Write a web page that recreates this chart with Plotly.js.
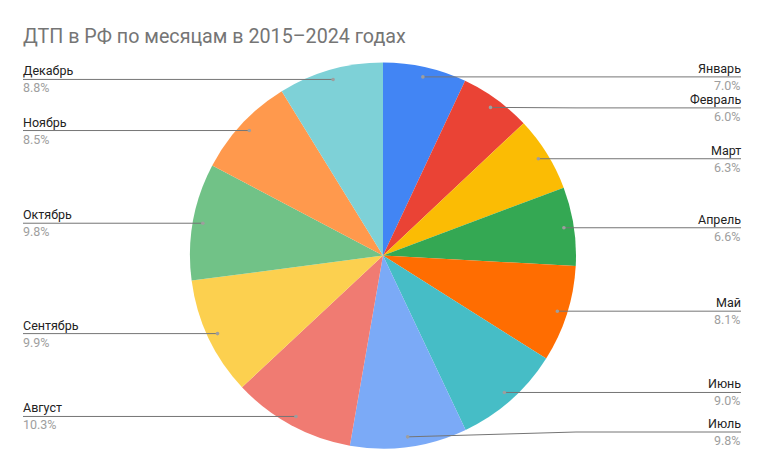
<!DOCTYPE html>
<html>
<head>
<meta charset="utf-8">
<script src="https://cdn.plot.ly/plotly-3.0.1.min.js"></script>
<style>
  html, body { margin: 0; padding: 0; background: #fff; }
  #chart { width: 765px; height: 472px; }
</style>
</head>
<body>
<div id="chart"></div>
<script>
// ── Data ─────────────────────────────────────────────────────────────
const months = ['Январь', 'Февраль', 'Март', 'Апрель', 'Май', 'Июнь',
                'Июль', 'Август', 'Сентябрь', 'Октябрь', 'Ноябрь', 'Декабрь'];
const shares = [7.0, 6.0, 6.3, 6.6, 8.1, 9.0, 9.8, 10.3, 9.9, 9.8, 8.5, 8.8];
const colors = ['#4285F4', '#EA4335', '#FBBC04', '#34A853', '#FF6D01', '#46BDC6',
                '#7BAAF7', '#F07B72', '#FCD04F', '#71C287', '#FF994D', '#7ED1D7'];

// ── Geometry (pixels) ────────────────────────────────────────────────
const W = 765, H = 472;
const CX = 383, CY = 255.5, R = 193;
const DOT_R = 183;          // leader lines start just inside the rim
const LABEL_GAP = 31;       // min vertical gap between labels on one side
const RIGHT_X = 741, LEFT_X = 23;
const Y_MIN = 60, Y_MAX = 432;

const px = x => x / W;
const py = y => 1 - y / H;

// mid-angle of each slice, clockwise from 12 o'clock
const total = shares.reduce((s, v) => s + v, 0);
let cum = 0;
const anchors = shares.map((v, i) => {
    const mid = (cum + v / 2) / total * 2 * Math.PI;
    cum += v;
    return {
        i,
        dx: CX + DOT_R * Math.sin(mid),
        dy: CY - DOT_R * Math.cos(mid),
        right: mid < Math.PI
    };
});

// spread labels vertically so they do not collide
function spread(list) {
    list.sort((p, q) => p.dy - q.dy);
    list.forEach((p, k) => {
        p.ly = p.dy;
        if (k > 0) p.ly = Math.max(p.ly, list[k - 1].ly + LABEL_GAP);
    });
    for (let k = list.length - 1; k >= 0; k--) {
        const lim = k < list.length - 1 ? list[k + 1].ly - LABEL_GAP : Y_MAX;
        list[k].ly = Math.max(Math.min(list[k].ly, lim), Y_MIN);
    }
}
spread(anchors.filter(p => p.right));
spread(anchors.filter(p => !p.right));

// ── Leader lines, dots and labels ────────────────────────────────────
const shapes = [];
const annotations = [];
anchors.forEach(p => {
    const elbowX = p.right ? CX + R : CX - R;
    const endX = p.right ? RIGHT_X : LEFT_X;
    shapes.push({
        type: 'path', xref: 'paper', yref: 'paper',
        path: `M ${px(p.dx)} ${py(p.dy)} L ${px(elbowX)} ${py(p.ly)} L ${px(endX)} ${py(p.ly)}`,
        line: { color: '#757575', width: 1 }
    });
    shapes.push({
        type: 'circle', xref: 'paper', yref: 'paper',
        x0: px(p.dx - 1.8), x1: px(p.dx + 1.8),
        y0: py(p.dy - 1.8), y1: py(p.dy + 1.8),
        fillcolor: '#9e9e9e', line: { width: 0 }
    });
    const common = {
        xref: 'paper', yref: 'paper', x: px(endX),
        xanchor: p.right ? 'right' : 'left', yanchor: 'middle',
        showarrow: false, borderpad: 0, borderwidth: 0
    };
    annotations.push(Object.assign({}, common, {
        text: months[p.i], y: py(p.ly - 8.5),
        font: { family: 'Roboto, Arial, sans-serif', size: 12.5, color: '#222222' }
    }));
    annotations.push(Object.assign({}, common, {
        text: shares[p.i].toFixed(1) + '%', y: py(p.ly + 8.5),
        font: { family: 'Roboto, Arial, sans-serif', size: 12.5, color: '#9e9e9e' }
    }));
});

const pieTrace = {
    type: 'pie',
    labels: months,
    values: shares,
    sort: false,
    direction: 'clockwise',
    rotation: 0,
    marker: { colors: colors, line: { width: 0 } },
    textinfo: 'none',
    hoverinfo: 'label+percent',
    domain: { x: [px(CX - R), px(CX + R)], y: [py(CY + R), py(CY - R)] },
    showlegend: false
};

const layout = {
    width: W, height: H,
    margin: { l: 0, r: 0, t: 0, b: 0 },
    paper_bgcolor: '#ffffff',
    title: {
        text: 'ДТП в РФ по месяцам в 2015–2024 годах',
        x: px(LEFT_X), xanchor: 'left',
        y: py(36), yanchor: 'middle',
        font: { family: 'Roboto, Arial, sans-serif', size: 19.7, color: '#757575' }
    },
    shapes: shapes,
    annotations: annotations
};

Plotly.newPlot('chart', [pieTrace], layout, { displayModeBar: false, staticPlot: true });
</script>
</body>
</html>
